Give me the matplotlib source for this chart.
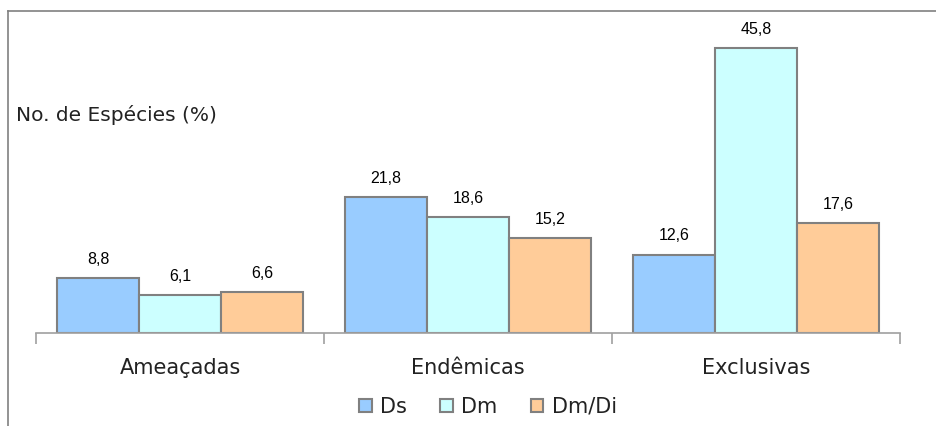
import matplotlib
matplotlib.use("Agg")
import matplotlib.pyplot as plt
from matplotlib.lines import Line2D
from matplotlib.patches import Patch
import numpy as np

categories = ["Ameaçadas", "Endêmicas", "Exclusivas"]
series_names = ["Ds", "Dm", "Dm/Di"]
ds = [8.8, 21.8, 12.6]
dm = [6.1, 18.6, 45.8]
dm_di = [6.6, 15.2, 17.6]
value_labels = [["8,8", "21,8", "12,6"], ["6,1", "18,6", "45,8"], ["6,6", "15,2", "17,6"]]
ylabel_text = "No. de Espécies (%)"

colors = ["#99CCFF", "#CCFFFF", "#FFCC99"]
edge = "#808080"

W, H = 936, 426
fig = plt.figure(figsize=(W / 100, H / 100), dpi=100)
ax = fig.add_axes([36 / W, 1 - 333 / H, 864 / W, 311.5 / H])

x = np.arange(len(categories)) + 0.5
bw = 82 / 288
for i, (vals, col, labs) in enumerate(zip([ds, dm, dm_di], colors, value_labels)):
    xs = x + (i - 1) * bw
    ax.bar(xs, vals, width=bw, color=col, edgecolor=edge, linewidth=1.5, zorder=2)
    for xi, v, lab in zip(xs, vals, labs):
        ax.annotate(lab, (xi, v), xytext=(0, 8), textcoords="offset points",
                    ha="center", va="bottom", fontsize=11.5,
                    family="Liberation Sans", color="#000000")

ax.set_xlim(0, 3)
ax.set_ylim(0, 50)
for s in ["top", "right", "left"]:
    ax.spines[s].set_visible(False)
ax.spines["bottom"].set_color("#A0A0A0")
ax.spines["bottom"].set_linewidth(1.2)
ax.set_yticks([])
ax.set_xticks([0, 1, 2, 3])
ax.set_xticklabels([])
ax.tick_params(axis="x", which="major", length=8, width=1.2, color="#A0A0A0", direction="out")
ax.set_xticks(x, minor=True)
ax.set_xticklabels(categories, minor=True, fontsize=15, color="#222222")
ax.tick_params(axis="x", which="minor", length=0, pad=18)

fig.text(16 / W, 1 - 115 / H, ylabel_text, fontsize=14.5, ha="left", va="center", color="#222222")

# outer frame (left and top edges)
fig.add_artist(Line2D([8 / W, 8 / W], [0, 1 - 11 / H], color=edge, linewidth=1.2, transform=fig.transFigure))
fig.add_artist(Line2D([8 / W, 1], [1 - 11 / H, 1 - 11 / H], color=edge, linewidth=1.2, transform=fig.transFigure))

handles = [Patch(facecolor=c, edgecolor=edge, linewidth=1.5) for c in colors]
fig.legend(handles, series_names, loc="center", bbox_to_anchor=(488 / W, 1 - 407 / H),
           ncol=3, frameon=False, fontsize=15, handlelength=0.6, handleheight=0.6,
           handletextpad=0.4, columnspacing=1.6, labelcolor="#222222")

fig.savefig("out.png", dpi=100)
